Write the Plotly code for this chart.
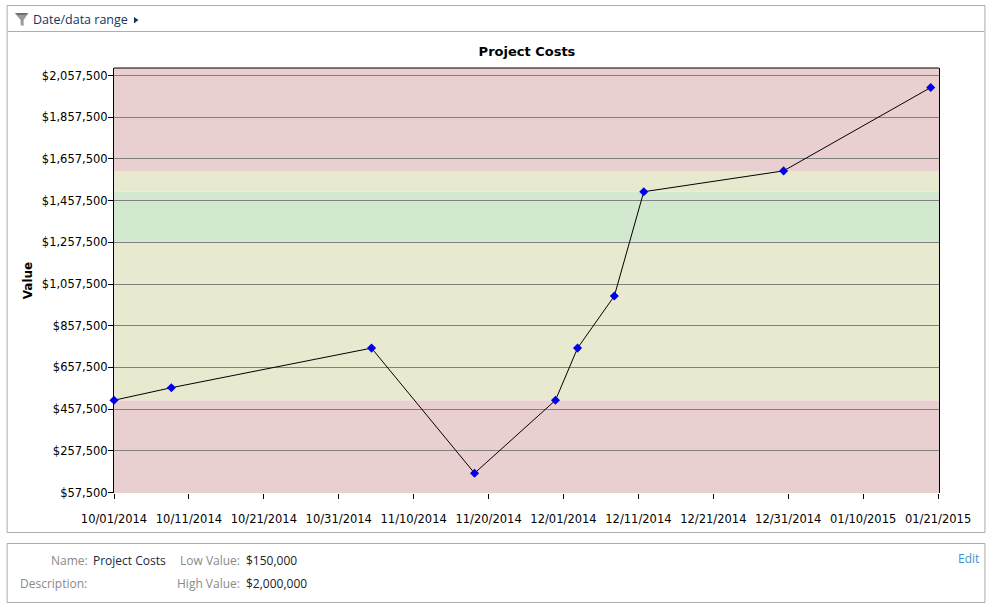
import plotly.graph_objects as go

# ---------- data ----------
dates = ["2014-10-01", "2014-10-08 19:00", "2014-11-05", "2014-11-19", "2014-11-30",
         "2014-12-03", "2014-12-08", "2014-12-12", "2014-12-31", "2015-01-20"]
values = [500000, 560000, 750000, 150000, 500000, 750000, 1000000, 1500000, 1600000, 2000000]

x_tick_dates = ["2014-10-01 00:00", "2014-10-11 04:22", "2014-10-21 08:44", "2014-10-31 13:05",
                "2014-11-10 17:27", "2014-11-20 21:49", "2014-12-01 02:11", "2014-12-11 06:33",
                "2014-12-21 10:55", "2014-12-31 15:16", "2015-01-10 19:38", "2015-01-21 00:00"]
x_tick_labels = ["10/01/2014", "10/11/2014", "10/21/2014", "10/31/2014", "11/10/2014", "11/20/2014",
                 "12/01/2014", "12/11/2014", "12/21/2014", "12/31/2014", "01/10/2015", "01/21/2015"]
y_ticks = [57500, 257500, 457500, 657500, 857500, 1057500, 1257500, 1457500, 1657500, 1857500, 2057500]

band_edges = [55100, 500000, 1250000, 1500000, 1600000, 2093500]
band_colors = ["#EACFD0", "#E9E9D0", "#D3E9CF", "#E9E9D0", "#EACFD0"]

title_text = "Project Costs"
y_title = "Value"
x_range = ["2014-10-01 00:00", "2015-01-21 03:00"]
y_range = [55100, 2093500]

# ---------- layout helpers ----------
W, H = 993, 608
L, R, T, B = 113.5, 939.5, 68, 493
TEXT = "Open Sans, sans-serif"
AXIS = "DejaVu Sans, sans-serif"


def px(x):
    return (x - L) / (R - L)


def py(y):
    return (B - y) / (B - T)


def box(x0, y0, x1, y1, color="#ABABAB"):
    return dict(type="rect", xref="paper", yref="paper", x0=px(x0), x1=px(x1), y0=py(y1), y1=py(y0),
                line=dict(color=color, width=1), fillcolor="rgba(0,0,0,0)", layer="above")


def seg(x0, y0, x1, y1, color):
    return dict(type="line", xref="paper", yref="paper", x0=px(x0), x1=px(x1), y0=py(y0), y1=py(y1),
                line=dict(color=color, width=1), layer="above")


def label(x, y, text, color="#222222", size=12, anchor="left", family=TEXT):
    shift = -3 if anchor == "left" else 2
    return dict(xref="paper", yref="paper", x=px(x + shift), y=py(y), text=text, showarrow=False,
                xanchor=anchor, yanchor="middle", align=anchor,
                font=dict(family=family, size=size, color=color))


def poly(points, color):
    d = "M " + " L ".join(f"{px(a):.5f},{py(b):.5f}" for a, b in points) + " Z"
    return dict(type="path", xref="paper", yref="paper", path=d, fillcolor=color,
                line=dict(width=0), layer="above")


shapes = []
for i, c in enumerate(band_colors):
    shapes.append(dict(type="rect", xref="paper", yref="y", x0=0, x1=1,
                       y0=band_edges[i], y1=band_edges[i + 1], fillcolor=c,
                       line=dict(width=0), layer="below"))

shapes += [
    box(6.5, 5.5, 985.5, 532.5),
    box(6.5, 543.5, 985.5, 602.5),
    seg(7, 31.5, 985, 31.5, "#9FB0C0"),
    seg(L, 68, R, 68, "#000000"),
    # filter funnel and disclosure arrow of the header row
    poly([(14, 13), (28, 13), (23, 20), (23, 26), (20, 25), (20, 20)], "#9A9A9A"),
    poly([(15, 13), (27, 13), (25, 15), (17, 15)], "#6E6E6E"),
    poly([(133.5, 17), (138, 20), (133.5, 23.5)], "#12365E"),
]

annotations = [
    label(33, 19.5, "Date/data range", "#12365E", 12.5),
    label(87, 560, "Name:", "#8A8A8A", 12, "right"),
    label(93, 560, "Project Costs", "#1A2A40", 12),
    label(240, 560, "Low Value:", "#8A8A8A", 12, "right"),
    label(247, 560, "$150,000", "#222222", 12),
    label(86, 583, "Description:", "#8A8A8A", 12, "right"),
    label(240, 583, "High Value:", "#8A8A8A", 12, "right"),
    label(247, 583, "$2,000,000", "#222222", 12),
    label(980, 558, "Edit", "#3A94D4", 12, "right"),
]

fig = go.Figure(
    go.Scatter(x=dates, y=values, mode="lines+markers", cliponaxis=False,
               line=dict(color="#000000", width=1),
               marker=dict(symbol="diamond", size=7, color="#0000EE"))
)

fig.update_layout(
    width=W, height=H,
    margin=dict(l=L, r=W - R, t=T, b=H - B, pad=0),
    paper_bgcolor="#FFFFFF", plot_bgcolor="#FFFFFF",
    showlegend=False,
    title=dict(text=f"<b>{title_text}</b>", x=527 / W, xanchor="center", y=1 - 51 / H, yanchor="middle",
               font=dict(family=AXIS, size=13, color="#000000")),
    shapes=shapes, annotations=annotations,
    xaxis=dict(type="date", range=x_range, tickvals=x_tick_dates, ticktext=x_tick_labels,
               tickmode="array", ticks="outside", ticklen=5, tickcolor="#000000", tickwidth=1,
               ticklabelstandoff=10, showgrid=False, showline=False, zeroline=False,
               tickfont=dict(family=AXIS, size=11.5, color="#000000")),
    yaxis=dict(range=y_range, tickvals=y_ticks, tickformat="$,.0f", tickmode="array",
               ticks="outside", ticklen=5, tickcolor="#000000", tickwidth=1, ticklabelstandoff=-2,
               showgrid=True, gridcolor="#808080", gridwidth=1, zeroline=False,
               showline=True, linecolor="#000000", linewidth=1, mirror=True,
               tickfont=dict(family=AXIS, size=11.5, color="#000000"),
               title=dict(text=f"<b>{y_title}</b>", standoff=6,
                          font=dict(family=AXIS, size=12, color="#000000"))),
)

fig.write_html("out.html", config={"displayModeBar": False},
               post_script="document.body.style.margin='0';document.body.style.overflow='hidden';")
